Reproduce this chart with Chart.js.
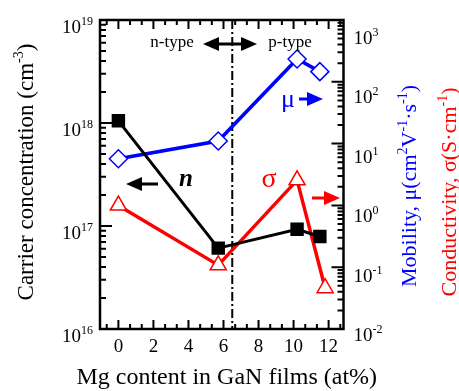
<!DOCTYPE html>
<html>
<head>
<meta charset="utf-8">
<script src="https://cdn.jsdelivr.net/npm/chart.js@4.4.1/dist/chart.umd.min.js"></script>
<style>
  html, body { margin: 0; padding: 0; background: #fff; }
  #wrap { width: 459px; height: 391px; }
</style>
</head>
<body>
<div id="wrap"><canvas id="chart"></canvas></div>
<script>
// values
const mgContent    = [0, 5.7, 10.2, 11.5];      // at% (n and mu)
const sigmaMg      = [0, 5.7, 10.2, 11.8];      // at% (sigma)
const carrierConc  = [1.05e18, 6.1e16, 9.3e16, 7.9e16];  // cm^-3
const mobility     = [5.7, 11, 234, 146];       // cm2/Vs
const conductivity = [1.0, 0.108, 2.56, 0.046]; // S/cm

const xTickVals = [0, 2, 4, 6, 8, 10, 12];
const leftExps  = [16, 17, 18, 19];
const rightExps = [-2, -1, 0, 1, 2, 3];
const typeBorder = 6.5;

const SERIF = '"Liberation Serif", "Times New Roman", serif';
const BLUE = '#0000ff';
const RED = '#ff0000';

const toXY = (xs, ys) => xs.map((x, i) => ({ x: x, y: ys[i] }));

// draw text with superscripts; parts = [[text, isSup], ...]
function richWidth(ctx, parts, size) {
  let w = 0;
  parts.forEach(p => {
    ctx.font = (p[1] ? Math.round(size * 0.62) : size) + 'px ' + SERIF;
    w += ctx.measureText(p[0]).width;
  });
  return w;
}
function drawRich(ctx, parts, x, y, size, align) {
  const w = richWidth(ctx, parts, size);
  let cx = align === 'center' ? x - w / 2 : (align === 'right' ? x - w : x);
  ctx.textBaseline = 'alphabetic';
  ctx.textAlign = 'left';
  parts.forEach(p => {
    const s = p[1] ? Math.round(size * 0.62) : size;
    ctx.font = s + 'px ' + SERIF;
    ctx.fillText(p[0], cx, p[1] ? y - size * 0.42 : y);
    cx += ctx.measureText(p[0]).width;
  });
}
function arrowHead(ctx, x, y, dir, len, half) {
  ctx.beginPath();
  ctx.moveTo(x, y);
  ctx.lineTo(x - dir * len, y - half);
  ctx.lineTo(x - dir * len, y + half);
  ctx.closePath();
  ctx.fill();
}
function arrow(ctx, x1, x2, y, color, both) {
  ctx.save();
  ctx.strokeStyle = color; ctx.fillStyle = color; ctx.lineWidth = 3;
  const dir = x2 > x1 ? 1 : -1;
  ctx.beginPath();
  ctx.moveTo(both ? x1 + dir * 10 : x1, y);
  ctx.lineTo(x2 - dir * 10, y);
  ctx.stroke();
  arrowHead(ctx, x2, y, dir, 16, 7);
  if (both) arrowHead(ctx, x1, y, -dir, 16, 7);
  ctx.restore();
}

const decor = {
  id: 'decor',
  beforeDatasetsDraw(chart) {
    const ctx = chart.ctx, a = chart.chartArea, xs = chart.scales.x;
    const px = xs.getPixelForValue(typeBorder);
    ctx.save();
    ctx.strokeStyle = '#000'; ctx.lineWidth = 2;
    ctx.setLineDash([9, 3, 2, 3]);
    ctx.beginPath(); ctx.moveTo(px, a.top); ctx.lineTo(px, a.bottom); ctx.stroke();
    ctx.restore();
  },
  afterDatasetsDraw(chart) {
    const ctx = chart.ctx, a = chart.chartArea;
    const xs = chart.scales.x, yl = chart.scales.y, yr = chart.scales.y2;
    ctx.save();
    ctx.strokeStyle = '#000'; ctx.lineWidth = 2.5;
    ctx.strokeRect(a.left, a.top, a.right - a.left, a.bottom - a.top);

    // x ticks, bottom and top, inward
    ctx.lineWidth = 2;
    ctx.beginPath();
    for (let k = -1; k <= 19; k++) {
      const v = k * 2 / 3;
      if (v < xs.min || v > xs.max) continue;
      const px = xs.getPixelForValue(v);
      const len = (k % 3 === 0) ? 9 : 5;
      ctx.moveTo(px, a.bottom); ctx.lineTo(px, a.bottom - len);
      ctx.moveTo(px, a.top); ctx.lineTo(px, a.top + len);
    }
    // left log ticks
    for (let e = 16; e <= 18; e++) {
      for (let m = 1; m <= 9; m++) {
        const py = yl.getPixelForValue(m * Math.pow(10, e));
        const len = m === 1 ? 12 : 6;
        ctx.moveTo(a.left, py); ctx.lineTo(a.left + len, py);
      }
    }
    // right log ticks
    for (let e = -2; e <= 2; e++) {
      for (let m = 1; m <= 9; m++) {
        const py = yr.getPixelForValue(m * Math.pow(10, e));
        const len = m === 1 ? 12 : 6;
        ctx.moveTo(a.right, py); ctx.lineTo(a.right - len, py);
      }
    }
    ctx.stroke();

    // tick labels
    ctx.fillStyle = '#000';
    ctx.font = '19px ' + SERIF;
    ctx.textAlign = 'center'; ctx.textBaseline = 'middle';
    xTickVals.forEach(v => ctx.fillText(String(v), xs.getPixelForValue(v), a.bottom + 18));
    leftExps.forEach(e => {
      const py = yl.getPixelForValue(Math.pow(10, e));
      drawRich(ctx, [['10', false], [String(e), true]], 93, py + 13, 19, 'right');
    });
    rightExps.forEach(e => {
      const py = yr.getPixelForValue(Math.pow(10, e));
      const off = 5 + (3 - e) * -2.4 + 12;
      drawRich(ctx, [['10', false], [String(e), true]], a.right + 10, py + off + 7, 19, 'left');
    });

    // axis titles
    ctx.fillStyle = '#000';
    drawRich(ctx, [['Mg content in GaN films (at%)', false]], (a.left + a.right) / 2 + 5, 384, 24, 'center');
    ctx.save();
    ctx.translate(33, 172); ctx.rotate(-Math.PI / 2);
    drawRich(ctx, [['Carrier concentration (cm', false], ['-3', true], [')', false]], 0, 0, 23, 'center');
    ctx.restore();
    ctx.save();
    ctx.translate(416, 186); ctx.rotate(-Math.PI / 2);
    ctx.fillStyle = BLUE;
    drawRich(ctx, [['Mobility, \u03bc(cm', false], ['2', true], ['V', false], ['-1', true], ['\u00b7s', false], ['-1', true], [')', false]], 0, 0, 22, 'center');
    ctx.restore();
    ctx.save();
    ctx.translate(456, 192); ctx.rotate(-Math.PI / 2);
    ctx.fillStyle = RED;
    drawRich(ctx, [['Conductivity, \u03c3(S\u00b7cm', false], ['-1', true], [')', false]], 0, 0, 22, 'center');
    ctx.restore();

    // annotations
    ctx.fillStyle = '#000';
    ctx.font = '17px ' + SERIF;
    ctx.textBaseline = 'middle'; ctx.textAlign = 'center';
    ctx.fillText('n-type', 172, 43);
    ctx.fillText('p-type', 290, 43);
    arrow(ctx, 203, 257, 44, '#000', true);

    ctx.font = 'italic bold 25px ' + SERIF;
    ctx.fillText('n', 186, 180);
    arrow(ctx, 158, 126, 184, '#000', false);

    ctx.fillStyle = BLUE;
    ctx.font = '26px ' + SERIF;
    ctx.fillText('\u03bc', 288, 100);
    arrow(ctx, 299, 323, 99, BLUE, false);

    ctx.fillStyle = RED;
    ctx.font = '28px ' + SERIF;
    ctx.fillText('\u03c3', 269, 180);
    arrow(ctx, 312, 340, 198, RED, false);
    ctx.restore();
  }
};

new Chart(document.getElementById('chart'), {
  type: 'line',
  data: {
    datasets: [
      {
        data: toXY(mgContent, carrierConc), yAxisID: 'y',
        borderColor: '#000', borderWidth: 3,
        pointStyle: 'rect', pointRadius: 9.5,
        pointBackgroundColor: '#000', pointBorderColor: '#000', pointBorderWidth: 0
      },
      {
        data: toXY(sigmaMg, conductivity), yAxisID: 'y2',
        borderColor: RED, borderWidth: 3.5,
        pointStyle: 'triangle', pointRadius: 9.3,
        pointBackgroundColor: '#fff', pointBorderColor: RED, pointBorderWidth: 1.5
      },
      {
        data: toXY(mgContent, mobility), yAxisID: 'y2',
        borderColor: BLUE, borderWidth: 3.5,
        pointStyle: 'rectRot', pointRadius: 9,
        pointBackgroundColor: '#fff', pointBorderColor: BLUE, pointBorderWidth: 1.5
      }
    ]
  },
  options: {
    responsive: true,
    maintainAspectRatio: false,
    animation: false,
    events: [],
    layout: { padding: { top: 20, left: 0, right: 0, bottom: 0 } },
    plugins: { legend: { display: false }, tooltip: { enabled: false } },
    scales: {
      x: {
        type: 'linear', min: -1.05, max: 12.85,
        grid: { display: false }, border: { display: false },
        ticks: { display: false },
        afterFit: s => { s.height = 391 - 329; }
      },
      y: {
        type: 'logarithmic', position: 'left', min: 1e16, max: 1e19,
        grid: { display: false }, border: { display: false },
        ticks: { display: false },
        afterFit: s => { s.width = 100; }
      },
      y2: {
        type: 'logarithmic', position: 'right', min: 1e-2, max: 1e3,
        grid: { display: false }, border: { display: false },
        ticks: { display: false },
        afterFit: s => { s.width = 459 - 343.5; }
      }
    }
  },
  plugins: [decor]
});
</script>
</body>
</html>
